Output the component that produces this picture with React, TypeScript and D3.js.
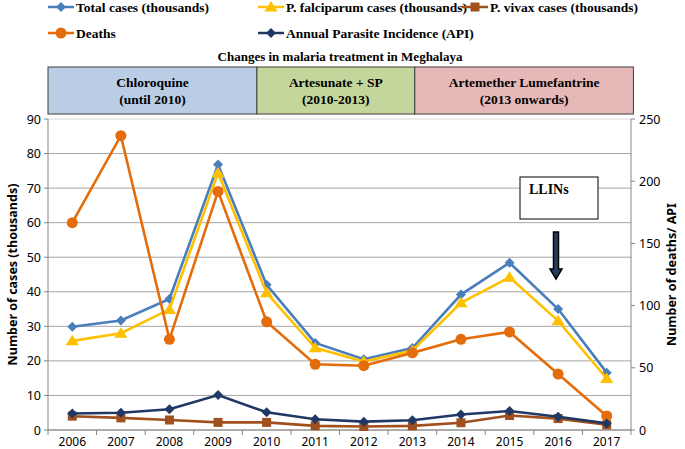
import React from "react";
import * as d3 from "d3";

const years = ["2006","2007","2008","2009","2010","2011","2012","2013","2014","2015","2016","2017"];
const totalCases = [29.9, 31.7, 37.9, 76.8, 42.0, 25.2, 20.5, 23.7, 39.2, 48.4, 35.0, 16.6];
const pfCases = [25.8, 28.0, 34.9, 74.4, 39.7, 23.8, 19.8, 23.0, 36.8, 44.2, 31.6, 14.9];
const pvCases = [4.0, 3.5, 2.9, 2.2, 2.2, 1.2, 1.0, 1.2, 2.1, 4.2, 3.3, 1.5];
const deaths = [166.7, 236.6, 72.9, 191.8, 87.0, 52.8, 51.7, 62.0, 72.9, 78.8, 45.0, 11.3];
const api = [13.3, 13.9, 16.7, 28.1, 14.2, 8.6, 6.7, 7.8, 12.5, 15.3, 10.7, 5.3];
const leftTicks = [0,10,20,30,40,50,60,70,80,90];
const rightTicks = [0,50,100,150,200,250];
const phases = [
  { l1: "Chloroquine", l2: "(until 2010)", from: 0, to: 4.3, fill: "#b9cde5" },
  { l1: "Artesunate + SP", l2: "(2010-2013)", from: 4.3, to: 7.55, fill: "#c3d69b" },
  { l1: "Artemether Lumefantrine", l2: "(2013 onwards)", from: 7.55, to: 12.05, fill: "#e6b9b8" },
];

const C = { total: "#4a7ebb", pf: "#ffc000", pv: "#a0501e", deaths: "#e46c0a", api: "#1f3864" };
const serif = "'Liberation Serif', serif";
const sans = "'Noto Sans', sans-serif";

export default function App() {
  const W = 685, H = 449;
  const left = 48, right = 631, top = 119, bottom = 430;
  const x = d3.scaleBand<string>().domain(years).range([left, right]);
  const cx = (i: number) => (x(years[i]) as number) + x.bandwidth() / 2;
  const yL = d3.scaleLinear().domain([0, 90]).range([bottom, top]);
  const yR = d3.scaleLinear().domain([0, 250]).range([bottom, top]);
  const xFrac = d3.scaleLinear().domain([0, 12]).range([left, right]);

  const lineL = d3.line<number>().x((_, i) => cx(i)).y((d) => yL(d));
  const lineR = d3.line<number>().x((_, i) => cx(i)).y((d) => yR(d));

  const diamond = (px: number, py: number, s: number) =>
    `M${px},${py - s}L${px + s},${py}L${px},${py + s}L${px - s},${py}Z`;
  const tri = (px: number, py: number, s: number) =>
    `M${px},${py - s}L${px + s * 1.1},${py + s * 0.75}L${px - s * 1.1},${py + s * 0.75}Z`;

  const marker = (kind: string, px: number, py: number, color: string, key: any) => {
    if (kind === "diamond") return <path key={key} d={diamond(px, py, 5)} fill={color} />;
    if (kind === "tri") return <path key={key} d={tri(px, py, 6)} fill={color} />;
    if (kind === "square") return <rect key={key} x={px - 4.5} y={py - 4.5} width={9} height={9} fill={color} />;
    return <circle key={key} cx={px} cy={py} r={5.5} fill={color} />;
  };

  const series = [
    { name: "total", data: totalCases, scale: "L", color: C.total, kind: "diamond" },
    { name: "pf", data: pfCases, scale: "L", color: C.pf, kind: "tri" },
    { name: "pv", data: pvCases, scale: "L", color: C.pv, kind: "square" },
    { name: "deaths", data: deaths, scale: "R", color: C.deaths, kind: "circle" },
    { name: "api", data: api, scale: "R", color: C.api, kind: "diamond" },
  ];

  const legend = [
    { label: "Total cases (thousands)", x: 48, y: 7, color: C.total, kind: "diamond" },
    { label: "P.  falciparum cases (thousands)", x: 258, y: 7, color: C.pf, kind: "tri" },
    { label: "P. vivax cases (thousands)", x: 462, y: 7, color: C.pv, kind: "square" },
    { label: "Deaths", x: 48, y: 33, color: C.deaths, kind: "circle" },
    { label: "Annual Parasite Incidence (API)", x: 258, y: 33, color: C.api, kind: "diamond" },
  ];

  const ax = 556, aTop = 232, aShaft = 269, aBot = 279;

  return (
    <svg width={W} height={H} style={{ position: "absolute", left: 0, top: 0, background: "#fff" }}>
      {legend.map((l, i) => (
        <g key={i}>
          <line x1={l.x} x2={l.x + 26} y1={l.y} y2={l.y} stroke={l.color} strokeWidth={2.5} />
          {marker(l.kind, l.x + 13, l.y, l.color, "m")}
          <text x={l.x + 28} y={l.y + 4.5} fontFamily={serif} fontWeight="bold" fontSize={13.5} fill="#000">{l.label}</text>
        </g>
      ))}
      <text x={340} y={61} textAnchor="middle" fontFamily={serif} fontWeight="bold" fontSize={13} fill="#000">
        Changes in malaria treatment in Meghalaya
      </text>
      {phases.map((p, i) => {
        const x0 = xFrac(p.from), x1 = xFrac(p.to);
        return (
          <g key={i}>
            <rect x={x0} y={67} width={x1 - x0} height={47} fill={p.fill} stroke="#3f3f3f" strokeWidth={1} />
            <text x={(x0 + x1) / 2} y={87} textAnchor="middle" fontFamily={serif} fontWeight="bold" fontSize={13.5}>{p.l1}</text>
            <text x={(x0 + x1) / 2} y={104} textAnchor="middle" fontFamily={serif} fontWeight="bold" fontSize={13.5}>{p.l2}</text>
          </g>
        );
      })}
      {leftTicks.map((t) => (
        <line key={t} x1={left} x2={right} y1={yL(t)} y2={yL(t)} stroke={t === 90 ? "#d9d9d9" : "#a6a6a6"} strokeWidth={1} />
      ))}
      <line x1={left} x2={left} y1={top} y2={bottom} stroke="#868686" />
      <line x1={right} x2={right} y1={top} y2={bottom} stroke="#868686" />
      <line x1={left} x2={right} y1={bottom} y2={bottom} stroke="#868686" />
      {leftTicks.map((t) => (
        <g key={t}>
          <line x1={left - 4} x2={left} y1={yL(t)} y2={yL(t)} stroke="#868686" />
          <text x={left - 7} y={yL(t) + 4.5} textAnchor="end" fontFamily={sans} fontSize={12.5} fill="#000">{t}</text>
        </g>
      ))}
      {rightTicks.map((t) => (
        <g key={t}>
          <line x1={right} x2={right + 4} y1={yR(t)} y2={yR(t)} stroke="#868686" />
          <text x={right + 8} y={yR(t) + 4.5} textAnchor="start" fontFamily={sans} fontSize={12.5} fill="#000">{t}</text>
        </g>
      ))}
      {years.map((yr, i) => (
        <g key={yr}>
          <line x1={(x(yr) as number)} x2={(x(yr) as number)} y1={bottom} y2={bottom + 5} stroke="#868686" />
          <text x={cx(i)} y={446} textAnchor="middle" fontFamily={sans} fontSize={12} fill="#000">{yr}</text>
        </g>
      ))}
      <line x1={right} x2={right} y1={bottom} y2={bottom + 5} stroke="#868686" />
      <text transform={`translate(17,${(top + bottom) / 2}) rotate(-90)`} textAnchor="middle" fontFamily={sans} fontWeight="bold" fontSize={12.5}>Number of cases (thousands)</text>
      <text transform={`translate(676,${(top + bottom) / 2}) rotate(-90)`} textAnchor="middle" fontFamily={sans} fontWeight="bold" fontSize={12.5}>Number of deaths/ API</text>
      {series.map((s) => (
        <g key={s.name}>
          <path d={(s.scale === "L" ? lineL : lineR)(s.data) as string} fill="none" stroke={s.color} strokeWidth={2.6} />
          {s.data.map((v, i) => marker(s.kind, cx(i), s.scale === "L" ? yL(v) : yR(v), s.color, i))}
        </g>
      ))}
      <rect x={520} y={177} width={78} height={42} fill="#fff" stroke="#000" strokeWidth={1} />
      <text x={529} y={194} fontFamily={serif} fontWeight="bold" fontSize={14}>LLINs</text>
      <path
        d={`M${ax - 2.5},${aTop}L${ax + 2.5},${aTop}L${ax + 2.5},${aShaft}L${ax + 6},${aShaft}L${ax},${aBot}L${ax - 6},${aShaft}L${ax - 2.5},${aShaft}Z`}
        fill="#24405f" stroke="#000" strokeWidth={1.5}
      />
    </svg>
  );
}
